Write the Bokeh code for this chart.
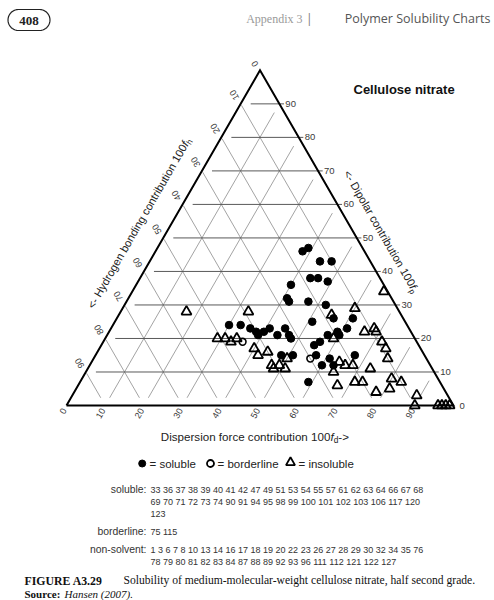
import math
from bokeh.plotting import figure
from bokeh.models import Range1d
from bokeh.core.properties import value
from bokeh.embed import file_html
from bokeh.resources import INLINE

# ---------------- data ----------------
# fd = dispersion share, fp = polar (dipolar) share, in %; fh = 100 - fd - fp
soluble_fd = [38, 39, 44, 47, 44, 46, 49, 40, 41, 42, 47, 52, 56, 61, 51, 30, 33, 36, 38, 40,
              41, 39, 45, 44, 47, 48, 57, 59, 61, 60, 55, 56, 48, 51, 57, 61, 67, 60, 63, 59]
soluble_fp = [46, 47, 43, 43, 38, 38, 37, 36, 32, 31, 31, 30, 26, 26, 25, 24, 24, 23, 22, 22,
              23, 21, 23, 21, 21, 20, 21, 22, 23, 21, 18, 19, 15, 15, 15, 14, 15, 12, 12, 7]
border_fd = [36, 56]
border_fp = [19, 14]
insol_fd = [65, 33, 60, 29, 31, 33, 34, 59, 66, 68, 69, 40, 42, 44, 47, 49, 48, 51, 50, 64,
            66, 68, 64, 73, 72, 74, 76, 67, 71, 73, 78, 81, 80, 83, 89, 90, 96, 98, 99, 17, 97, 55]
insol_fp = [34, 28, 29, 20, 20, 19, 20, 20, 22, 23, 22, 17, 15, 16, 12, 12, 11, 11, 14, 13,
            12, 12, 10, 11, 19, 17, 14, 6, 7, 7, 4, 5, 8, 7, 3, 0, 0, 0, 0, 28, 0, 27]

ticks = [0, 10, 20, 30, 40, 50, 60, 70, 80, 90]
tick_labels = [str(t) for t in ticks]

soluble_ids = [33, 36, 37, 38, 39, 40, 41, 42, 47, 49, 51, 53, 54, 55, 57, 61, 62, 63, 64, 66, 67, 68,
               69, 70, 71, 72, 73, 74, 90, 91, 94, 95, 98, 99, 100, 101, 102, 103, 106, 117, 120,
               123]
soluble_line_sizes = [22, 19, 1]
borderline_ids = [75, 115]
borderline_line_sizes = [2]
nonsolvent_ids = [1, 3, 6, 7, 8, 10, 13, 14, 16, 17, 18, 19, 20, 22, 23, 26, 27, 28, 29, 30, 32, 34, 35, 76,
                  78, 79, 80, 81, 82, 83, 84, 87, 88, 89, 92, 93, 96, 111, 112, 121, 122, 127]
nonsolvent_line_sizes = [24, 18]

chart_title = "Cellulose nitrate"
caption_label = "FIGURE A3.29"
caption_text = "Solubility of medium-molecular-weight cellulose nitrate, half second grade."
source_label = "Source:"
source_text = "Hansen (2007)."
page_number = "408"
header_left = "Appendix 3"
header_right = "Polymer Solubility Charts"

# ---------------- geometry helpers ----------------
W, H = 494, 600
OFF = 0.0                              # page offset of the canvas
PX0, PY0, K = 66.0, 405.0, 3.87       # page px of fd=0 corner, px per % unit
S3 = math.sqrt(3) / 2


def P(px, py):
    return (px - PX0) / K, (PY0 - py) / K


def tern(fd, fp):
    return fd + fp / 2.0, fp * S3


HELV = {' ': 278, '<': 584, '>': 584, '-': 333, '=': 584, ':': 278, '.': 278, ',': 278,
        'a': 556, 'b': 556, 'c': 500, 'd': 556, 'e': 556, 'f': 278, 'g': 556, 'h': 556, 'i': 222,
        'j': 222, 'k': 500, 'l': 222, 'm': 833, 'n': 556, 'o': 556, 'p': 556, 'q': 556, 'r': 333,
        's': 500, 't': 278, 'u': 556, 'v': 500, 'w': 722, 'x': 500, 'y': 500, 'z': 500,
        'C': 722, 'D': 722, 'H': 722}


def tw(s, size):
    return sum(HELV.get(c, 556) for c in s) / 1000.0 * size


x0r, y0r = P(OFF, OFF + H)
x1r, y1r = P(OFF + W, OFF)
p = figure(width=W, height=H, x_range=Range1d(x0r, x1r), y_range=Range1d(y0r, y1r),
           x_axis_type=None, y_axis_type=None, toolbar_location=None, output_backend="svg",
           min_border=0, outline_line_color=None, background_fill_color="white")
p.grid.visible = False

FONT = value("Liberation Sans")
SERIF = value("Liberation Serif")


def txt_d(x, y, s, size, font=FONT, style="normal", color="#222", align="left",
          baseline="middle", angle=0.0):
    p.text(x=[x], y=[y], text=[s], angle=angle, text_align=align, text_baseline=baseline,
           text_font=font, text_font_size=value(f"{size}px"), text_font_style=style,
           text_color=color)


def txt(px, py, s, size, **kw):
    x, y = P(px, py)
    txt_d(x, y, s, size, **kw)


def rich(cx, cy, ang_deg, parts, size, color="#222"):
    a = math.radians(ang_deg)
    ux, uy = math.cos(a), math.sin(a)
    dnx, dny = math.sin(a), -math.cos(a)
    widths = [tw(t, size * sc) for (t, st, sc, sh) in parts]
    off = -sum(widths) / 2.0
    x0, y0 = P(cx, cy)
    for (t, st, sc, sh), w in zip(parts, widths):
        ox = x0 + (ux * off + dnx * sh * size) / K
        oy = y0 + (uy * off + dny * sh * size) / K
        txt_d(ox, oy, t, round(size * sc, 2), style=st, color=color, angle=a)
        off += w


# ---------------- grid ----------------
hx, hy, dxs, dys = [], [], [], []
for v in ticks[1:]:
    yv = v * S3
    hx.append([v / 2.0 + 2.6, 100 - v / 2.0 + 1.2])
    hy.append([yv, yv])
    # constant fh = v  (from left edge down to base)
    ax_, ay_ = tern(0, 100 - v)
    bx_, by_ = tern(100 - v, 0)
    L = math.hypot(bx_ - ax_, by_ - ay_)
    ex, ey = (bx_ - ax_) / L, (by_ - ay_) / L
    dxs.append([ax_ + ex * 0.4, bx_ - ex * 2.3])
    dys.append([ay_ + ey * 0.4, by_ - ey * 2.3])
    # constant fd = v  (from base up to right edge)
    bx2, by2 = tern(v, 0)
    cx2, cy2 = tern(v, 100 - v)
    L = math.hypot(cx2 - bx2, cy2 - by2)
    ex, ey = (cx2 - bx2) / L, (cy2 - by2) / L
    dxs.append([bx2 + ex * 2.3, cx2 - ex * 2.6])
    dys.append([by2 + ey * 2.3, cy2 - ey * 2.6])

p.multi_line(dxs, dys, line_color="#8c8c8c", line_width=0.8)
p.multi_line(hx, hy, line_color="#505050", line_width=0.95)

tx = [tern(0, 0)[0], tern(100, 0)[0], tern(0, 100)[0], tern(0, 0)[0]]
ty = [tern(0, 0)[1], tern(100, 0)[1], tern(0, 100)[1], tern(0, 0)[1]]
p.line(tx, ty, line_color="black", line_width=2.0, line_join="miter")

# ---------------- tick labels ----------------
TICKC = "#3a3a3a"
for v, lab in zip(ticks, tick_labels):
    # fd along base, aligned with the fd grid lines (text ends next to the base)
    a_out = math.radians(-120)
    bx_, by_ = tern(v, 0)
    txt_d(bx_ + math.cos(a_out) * 4 / K, by_ + math.sin(a_out) * 4 / K, lab, 9,
          color=TICKC, angle=math.radians(60), align="right")
    # fh along left edge (reading outward)
    a = math.radians(120)
    lx_, ly_ = tern(0, 100 - v)
    txt_d(lx_ + (math.cos(a) * 4 - 0.866 * 2) / K, ly_ + (math.sin(a) * 4 + 0.5 * 2) / K,
          lab, 9, color=TICKC, angle=a)
    # fp along right edge
    rx_, ry_ = tern(100 - v, v)
    txt_d(rx_ + 6 / K, ry_, lab, 9.5, color=TICKC)

# ---------------- axis titles ----------------
rich(138.5, 222.5, 60, [("<- Hydrogen bonding contribution 100", "normal", 1, 0),
                        ("f", "italic", 1, 0), ("h", "normal", 0.72, 0.32)], 11.2)
rich(381.0, 231.0, -60, [("<- Dipolar contribution 100", "normal", 1, 0),
                         ("f", "italic", 1, 0), ("p", "normal", 0.72, 0.32)], 11.2)
rich(256.0, 436.0, 0, [("Dispersion force contribution 100", "normal", 1, 0),
                       ("f", "italic", 1, 0), ("d", "normal", 0.72, 0.32),
                       (" ->", "normal", 1, 0)], 11.6)

txt(353, 89, chart_title, 13, style="bold", color="#111")

# ---------------- data points ----------------
def tx_list(fds, fps):
    xs = [tern(a, b)[0] for a, b in zip(fds, fps)]
    ys = [tern(a, b)[1] for a, b in zip(fds, fps)]
    return xs, ys


ix, iy = tx_list(insol_fd, insol_fp)
p.scatter(ix, iy, marker="triangle", size=10, fill_color=None, line_color="black",
          line_width=1.8)
sx, sy = tx_list(soluble_fd, soluble_fp)
p.scatter(sx, sy, marker="circle", size=7.6, fill_color="black", line_color="black")
bx, by = tx_list(border_fd, border_fp)
p.scatter(bx, by, marker="circle", size=6.8, fill_color=None, line_color="black",
          line_width=1.6)

# ---------------- legend line ----------------
lx, ly = P(141.7, 463)
p.scatter([lx], [ly], marker="circle", size=7, fill_color="black", line_color="black")
txt(149, 463, "= soluble", 11.5, color="#222")
lx, ly = P(210, 463)
p.scatter([lx], [ly], marker="circle", size=7, fill_color=None, line_color="black",
          line_width=1.8)
txt(217, 463, "= borderline", 11.5, color="#222")
lx, ly = P(290, 462)
p.scatter([lx], [ly], marker="triangle", size=9, fill_color=None, line_color="black",
          line_width=1.8)
txt(298, 463, "= insoluble", 11.5, color="#222")

# ---------------- solvent number lists ----------------
def split_lines(ids, sizes):
    out, i = [], 0
    for n in sizes:
        out.append(" ".join(str(k) for k in ids[i:i + n]))
        i += n
    return out


LINE = 12.0
blocks = [("soluble:", split_lines(soluble_ids, soluble_line_sizes), 489),
          ("borderline:", split_lines(borderline_ids, borderline_line_sizes), 531),
          ("non-solvent:", split_lines(nonsolvent_ids, nonsolvent_line_sizes), 549)]
for label, lines, y0 in blocks:
    txt(146, y0, label, 10.4, color="#333", align="right")
    for k, line in enumerate(lines):
        txt(150, y0 + k * LINE, line, 9.0, color="#333")

# ---------------- caption ----------------
txt(24, 580, caption_label, 11.8, font=SERIF, style="bold", color="#111")
txt(123, 580, caption_text, 11.6, font=SERIF, color="#111")
txt(24, 593, source_label, 11, font=SERIF, style="bold", color="#111")
txt(64, 593, source_text, 11, font=SERIF, style="italic", color="#111")

# ---------------- page header ----------------
cxp, cyp, hw, rr = 28.5, 19.5, 10.5, 10.5
ang = [math.pi / 2 + math.pi * i / 20 for i in range(21)]
pxs = [cxp - hw + rr * math.cos(t) for t in ang] + [cxp + hw + rr * math.cos(t + math.pi) for t in ang]
pys = [cyp - rr * math.sin(t) for t in ang] + [cyp - rr * math.sin(t + math.pi) for t in ang]
pd = [P(a, b) for a, b in zip(pxs, pys)]
p.patch([q[0] for q in pd], [q[1] for q in pd], fill_color=None, line_color="#222",
        line_width=1.2)
txt(28.5, 20, page_number, 13, font=SERIF, style="bold", color="#222", align="center")
txt(490, 18, header_right, 12.5, font=value("Open Sans"), color="#555", align="right")
txt(312, 18, "|", 12, font=value("Open Sans"), color="#777", align="right")
txt(302, 18, header_left, 12, font=SERIF, color="#9a9a9a", align="right")

open("out.html", "w").write(file_html(p, INLINE))
